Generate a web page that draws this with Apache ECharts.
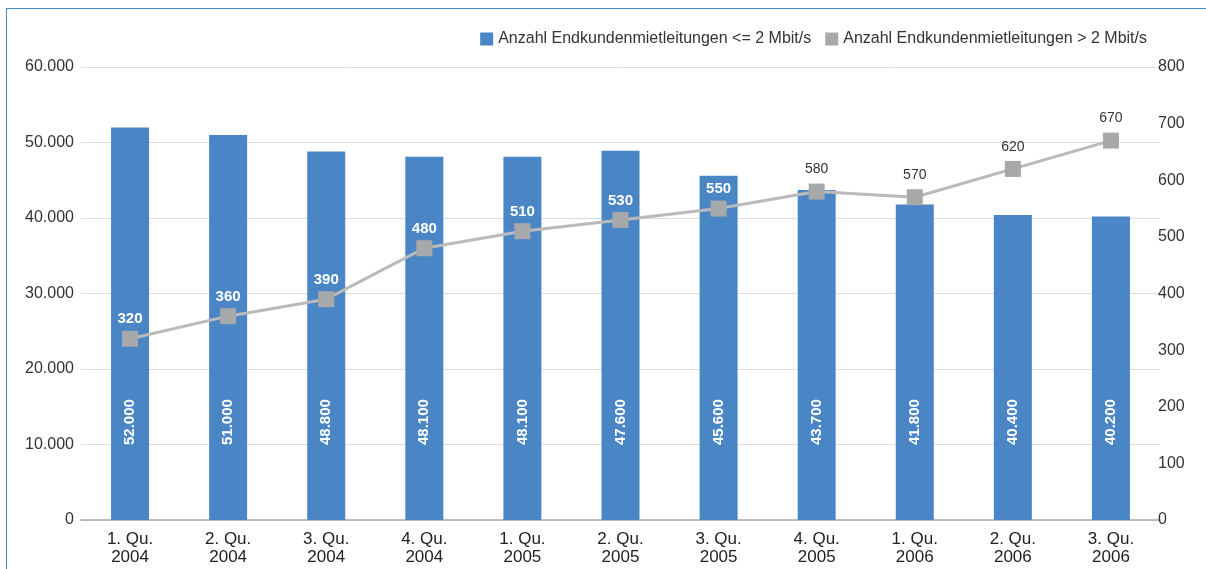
<!DOCTYPE html>
<html>
<head>
<meta charset="utf-8">
<script src="https://cdn.jsdelivr.net/npm/echarts@6/dist/echarts.min.js"></script>
<style>
	html, body { margin: 0; padding: 0; background: #fff; }
	#frame {
		position: absolute; left: 6px; top: 8px; right: 0; bottom: 0;
		border-top: 1.5px solid #3f8bd2; border-left: 1.5px solid #3f8bd2;
	}
	#main { position: absolute; left: 0; top: 0; width: 1206px; height: 569px; }
</style>
</head>
<body>
<div id="frame"></div>
<div id="main"></div>
<script type="text/javascript">
	var categories = ['1. Qu.\n2004', '2. Qu.\n2004', '3. Qu.\n2004', '4. Qu.\n2004',
		'1. Qu.\n2005', '2. Qu.\n2005', '3. Qu.\n2005', '4. Qu.\n2005',
		'1. Qu.\n2006', '2. Qu.\n2006', '3. Qu.\n2006'];
	// Balkenhoehe wie gezeichnet
	var lowValues = [52000, 51000, 48800, 48100, 48100, 48900, 45600, 43700, 41800, 40400, 40200];
	// Beschriftung wie gedruckt
	var lowLabels = ['52.000', '51.000', '48.800', '48.100', '48.100', '47.600', '45.600', '43.700', '41.800', '40.400', '40.200'];
	var highValues = [320, 360, 390, 480, 510, 530, 550, 580, 570, 620, 670];
	// Punkte, deren Beschriftung im Balken liegt (weiss)
	var insideBar = [true, true, true, true, true, true, true, false, false, false, false];

	var font = '"Liberation Sans", Arial, sans-serif';

	var myChart = echarts.init(document.getElementById('main'));

	var option = {
		animation: false,
		textStyle: { fontFamily: font },
		legend: {
			right: 54,
			top: 26,
			itemWidth: 13,
			itemHeight: 13,
			itemGap: 14,
			textStyle: { fontSize: 16, color: '#333', fontFamily: font },
			data: [
				{ name: 'Anzahl Endkundenmietleitungen <= 2 Mbit/s', icon: 'rect' },
				{ name: 'Anzahl Endkundenmietleitungen > 2 Mbit/s', icon: 'rect' }
			]
		},
		grid: { left: 81, right: 46, top: 67, bottom: 49 },
		xAxis: {
			type: 'category',
			data: categories,
			axisTick: { show: false },
			axisLine: { lineStyle: { color: '#a9a9a9', width: 1.5 } },
			axisLabel: {
				interval: 0,
				fontSize: 17,
				lineHeight: 18,
				color: '#222',
				margin: 10,
				fontFamily: font
			}
		},
		yAxis: [
			{
				type: 'value',
				min: 0,
				max: 60000,
				interval: 10000,
				axisLabel: {
					fontSize: 16,
					color: '#333',
					margin: 7,
					fontFamily: font,
					formatter: function (v) {
						return v === 0 ? '0' : (v / 1000) + '.000';
					}
				},
				splitLine: { lineStyle: { color: '#dcdcdc', width: 1 } }
			},
			{
				type: 'value',
				min: 0,
				max: 800,
				interval: 100,
				axisLabel: { fontSize: 16, color: '#333', margin: -2, fontFamily: font },
				splitLine: { show: false }
			}
		],
		series: [
			{
				name: 'Anzahl Endkundenmietleitungen <= 2 Mbit/s',
				type: 'bar',
				barWidth: 38,
				itemStyle: { color: '#4a86c5' },
				label: {
					show: true,
					position: 'insideBottom',
					distance: 75,
					rotate: 90,
					align: 'left',
					verticalAlign: 'middle',
					color: '#fff',
					fontWeight: 'bold',
					fontSize: 15,
					fontFamily: font,
					formatter: function (p) { return lowLabels[p.dataIndex]; }
				},
				data: lowValues
			},
			{
				name: 'Anzahl Endkundenmietleitungen > 2 Mbit/s',
				type: 'line',
				yAxisIndex: 1,
				symbol: 'rect',
				symbolSize: 16,
				lineStyle: { color: '#bababa', width: 3 },
				itemStyle: { color: '#a7a8aa' },
				z: 5,
				data: highValues.map(function (v, i) {
					return {
						value: v,
						label: insideBar[i]
							? { color: '#fff', fontWeight: 'bold', fontSize: 15, distance: 4 }
							: { color: '#333', fontWeight: 'normal', fontSize: 14, distance: 7 }
					};
				}),
				label: { show: true, position: 'top', fontFamily: font }
			}
		]
	};

	myChart.setOption(option);
</script>
</body>
</html>
